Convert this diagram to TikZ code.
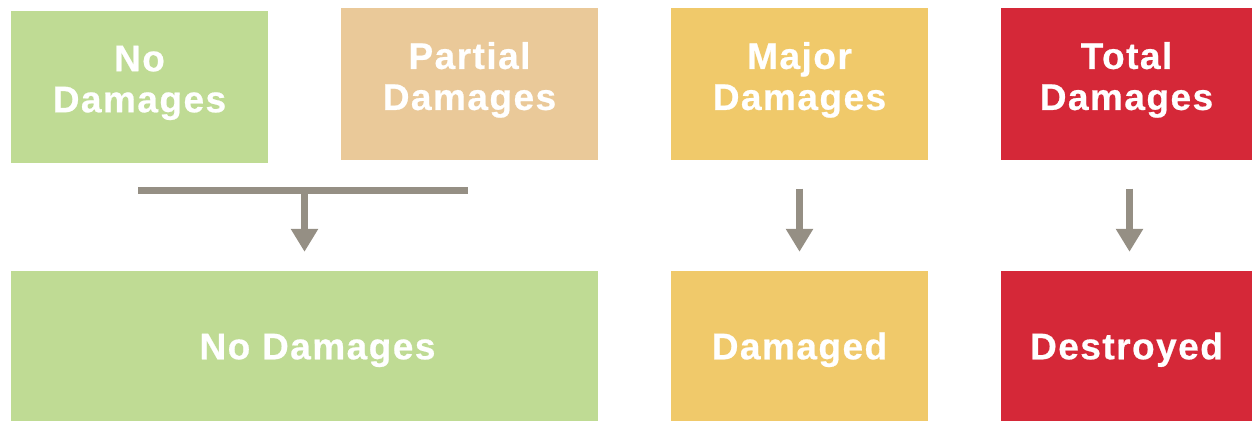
\documentclass[tikz,border=0pt]{standalone}
\usepackage{fontspec}
\setmainfont{Liberation Sans}[LetterSpace=4, BoldFeatures={FakeBold=0.6}]
\usepackage{tikz}
\usetikzlibrary{arrows.meta,calc,positioning}
\usepackage{xcolor}
\definecolor{nogreen}{HTML}{BFDB94}
\definecolor{parttan}{HTML}{EAC999}
\definecolor{majyellow}{HTML}{F0C96A}
\definecolor{totred}{HTML}{D52838}
\definecolor{flowgray}{HTML}{958F84}

\begin{document}
\begin{tikzpicture}[x=1pt, y=-1pt,
  dmgbox/.style={inner sep=0pt, text=white, align=center,
    font=\fontsize{37}{41}\selectfont\bfseries},
  topbox/.style={dmgbox, minimum width=257pt, minimum height=152pt, text depth=15pt},
  outbox/.style={dmgbox, minimum height=150pt, text height=26.5pt, text depth=0pt},
  flow/.style={flowgray, line width=7pt, -{Triangle[width=26pt,length=23pt]},
    shorten <=29pt, shorten >=19pt}]
  \useasboundingbox (0,0) rectangle (1252,421);
  % top row
  \node[topbox, fill=nogreen] (nodmg) at (139.5,86.5) {No\\Damages};
  \node[topbox, fill=parttan] (partdmg) at (469.5,83.5) {Partial\\Damages};
  \node[topbox, fill=majyellow] (majdmg) at (799.5,83.5) {Major\\Damages};
  \node[topbox, fill=totred, minimum width=251pt] (totdmg) at (1126.5,83.5) {Total\\Damages};
  % bottom row
  \node[outbox, fill=nogreen, minimum width=587pt] (nodmgout) at (304.5,346) {\hspace*{26pt}No Damages};
  \node[outbox, fill=majyellow, minimum width=257pt] (dmgout) at (799.5,346) {Damaged};
  \node[outbox, fill=totred, minimum width=251pt] (destout) at (1126.5,346) {Destroyed};
  % merge bar
  \coordinate (barL) at (138,190.5);
  \coordinate (barR) at (468,190.5);
  \draw[flowgray, line width=7pt] (barL) -- (barR);
  \draw[flow, shorten <=0pt] (nodmgout.north |- barL) -- (nodmgout.north);
  \draw[flow] (majdmg.south) -- (dmgout.north);
  \draw[flow] ([xshift=3pt]totdmg.south) -- ([xshift=3pt]destout.north);
\end{tikzpicture}
\end{document}
